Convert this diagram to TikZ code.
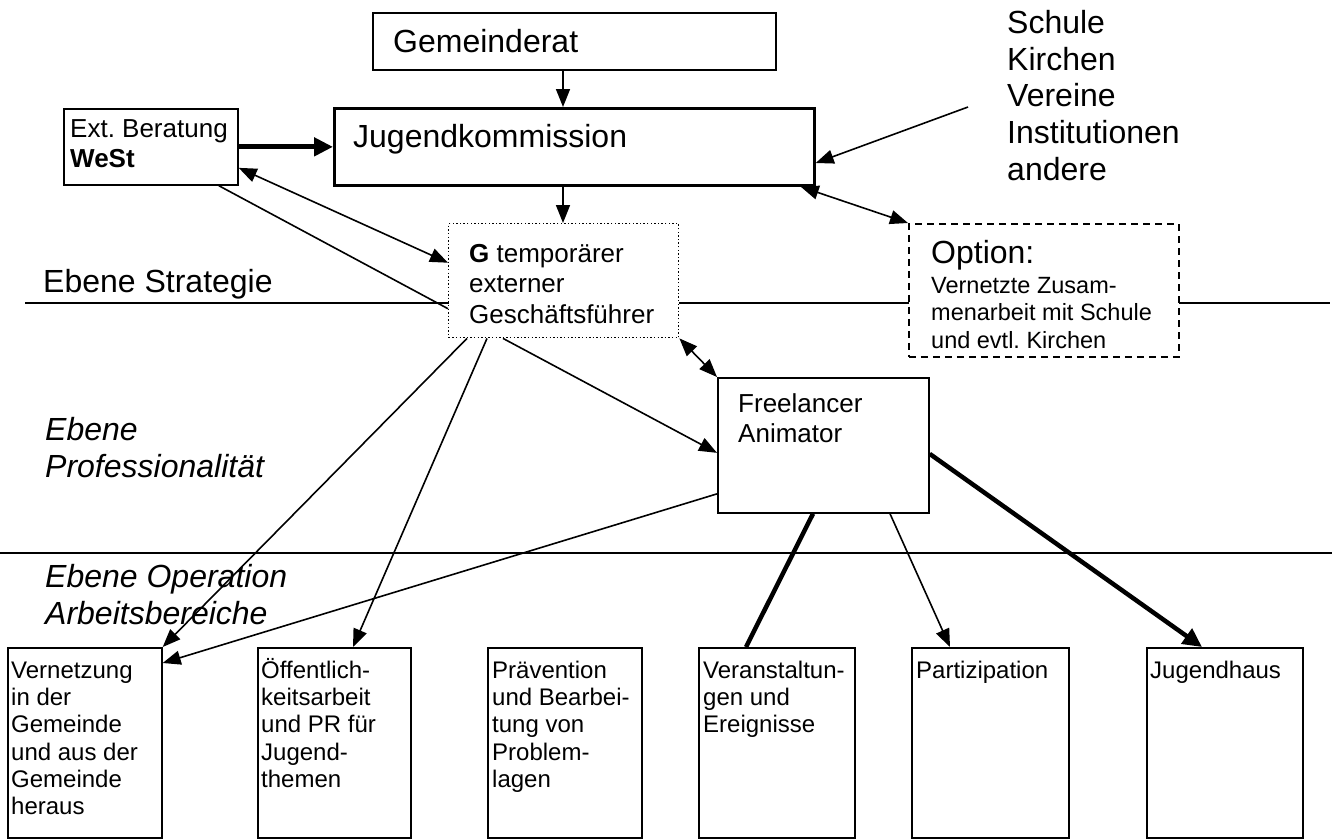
\documentclass[tikz,border=0pt]{standalone}
\usepackage{fontspec}
\setmainfont{Liberation Sans}
\usetikzlibrary{arrows.meta,calc}
\frenchspacing
\newcommand\fstr[1]{\rule{0pt}{#1pt}}
\newcommand\fbig{\fontsize{32}{36.8}\selectfont}
\newcommand\fmid{\fontsize{26}{30.5}\selectfont}
\newcommand\fsml{\fontsize{24}{27.3}\selectfont}
\newcommand\fopt{\fontsize{23.5}{27.5}\selectfont}
\tikzset{
  box/.style={draw, line width=1.7pt, anchor=north west, inner sep=0pt, fill=white},
  txt/.style={anchor=north west, inner sep=0pt, align=left},
  arr/.style={line width=1.6pt, -{Triangle[length=18pt,width=14pt]}},
  darr/.style={line width=1.6pt, {Triangle[length=18pt,width=14pt]}-{Triangle[length=18pt,width=14pt]}},
  plain/.style={line width=1.6pt},
  tarr/.style={line width=5pt, -{Triangle[length=19pt,width=18pt]}},
  thick line/.style={line width=4.5pt},
  level line/.style={line width=1.6pt},
}
\begin{document}
\begin{tikzpicture}[x=1pt,y=-1pt]
\useasboundingbox (0,0) rectangle (1340,839);
% level lines
\coordinate (ls1) at (25,303);
\coordinate (ls2) at (1330,303);
\coordinate (lp1) at (0,553);
\coordinate (lp2) at (1332,553);
\draw[level line] (ls1) -- (ls2);
\draw[level line] (lp1) -- (lp2);
% level labels
\node[txt, font=\fbig] (lvS) at (43,260) {\fstr{32}Ebene Strategie};
\node[txt, font=\fbig\itshape] (lvP) at (45,408) {\fstr{32}Ebene\\Professionalität};
\node[txt, font=\fbig\itshape] (lvO) at (45,555) {\fstr{32}Ebene Operation\\Arbeitsbereiche};
% top boxes
\node[box, minimum width=403pt, minimum height=57pt] (gr) at (372,12) {};
\node[txt, font=\fbig] (grt) at (393,20) {\fstr{32}Gemeinderat};
\node[box, line width=2.7pt, minimum width=480pt, minimum height=77pt] (jk) at (333,107) {};
\node[txt, font=\fbig] (jkt) at (353,115) {\fstr{32}Jugendkommission};
\node[box, minimum width=174pt, minimum height=76pt] (ext) at (63,108) {};
\node[txt, font=\fmid] (extt) at (70,111) {\fstr{26}Ext. Beratung\\\textbf{WeSt}};
\node[txt, font=\fbig] (list) at (1007,1) {\fstr{32}Schule\\Kirchen\\Vereine\\Institutionen\\andere};
\coordinate (listfrom) at (968,107);
% G box
\node[box, line width=1.4pt, dash pattern=on 1.4pt off 2.2pt, minimum width=230pt, minimum height=114pt] (gf) at (448,223) {};
\node[txt, font=\fmid] (gft) at (469,236) {\fstr{26}\textbf{G} temporärer\\externer\\Geschäftsführer};
% Option box
\node[box, line width=1.8pt, dash pattern=on 7pt off 5pt, minimum width=270pt, minimum height=133pt] (opt) at (908,223) {};
\node[txt, font=\fbig] (optt1) at (931,231) {\fstr{32}Option:};
\node[txt, font=\fopt] (optt2) at (931,269.5) {\fstr{23.5}Vernetzte Zusam-\\menarbeit mit Schule\\und evtl. Kirchen};
% Freelancer
\node[box, minimum width=211pt, minimum height=135pt] (fa) at (717,377) {};
\node[txt, font=\fmid] (fat) at (738,386) {\fstr{26}Freelancer\\Animator};
% bottom boxes
\node[box, minimum width=154pt, minimum height=190pt] (b1) at (7,647) {};
\node[box, minimum width=153pt, minimum height=190pt] (b2) at (257,647) {};
\node[box, minimum width=154pt, minimum height=190pt] (b3) at (487,647) {};
\node[box, minimum width=156pt, minimum height=190pt] (b4) at (698,647) {};
\node[box, minimum width=157pt, minimum height=190pt] (b5) at (911,647) {};
\node[box, minimum width=156pt, minimum height=190pt] (b6) at (1146,647) {};
\node[txt, font=\fsml] (b1t) at (11,654) {\fstr{24}Vernetzung\\in der\\Gemeinde\\und aus der\\Gemeinde\\heraus};
\node[txt, font=\fsml] (b2t) at (261,654) {\fstr{24}Öffentlich-\\keitsarbeit\\und PR für\\Jugend-\\themen};
\node[txt, font=\fsml] (b3t) at (492,654) {\fstr{24}Prävention\\und Bearbei-\\tung von\\Problem-\\lagen};
\node[txt, font=\fsml] (b4t) at (703,654) {\fstr{24}Veranstaltun-\\gen und\\Ereignisse};
\node[txt, font=\fsml] (b5t) at (916,654) {\fstr{24}Partizipation};
\node[txt, font=\fsml] (b6t) at (1150,654) {\fstr{24}Jugendhaus};
% connectors
\draw[arr] ([xshift=191pt]gr.south west) -- ([xshift=230pt]jk.north west);
\draw[arr] ([xshift=230pt]jk.south west) -- ([xshift=115pt]gf.north west);
\draw[tarr] (ext.east) -- (jk.west |- ext.east);
\draw[darr] ([yshift=-21pt]ext.east) -- ([yshift=18pt]gf.west);
\draw[plain] ([xshift=68pt]ext.south) -- ([yshift=-28pt]gf.west);
\draw[arr] (listfrom) -- ([yshift=-56pt]jk.north east);
\draw[darr] ([xshift=-15pt]jk.south east) -- (opt.north west);
\draw[darr] (gf.south east) -- (fa.north west);
\draw[arr] ([xshift=55pt]gf.south west) -- ([yshift=-7.5pt]fa.west);
\draw[arr] ([xshift=19pt]gf.south west) -- (b1.north east);
\draw[arr] ([xshift=39pt]gf.south west) -- ([xshift=96pt]b2.north west);
\draw[arr] ([yshift=-48.5pt]fa.west) -- ([yshift=-16pt]b1.north east);
\draw[thick line] ([xshift=96pt]fa.south west) -- ([xshift=48pt]b4.north west);
\draw[arr] ([xshift=173pt]fa.south west) -- ([xshift=39pt]b5.north west);
\draw[tarr, line width=4.5pt] ([yshift=-8.5pt]fa.east) -- ([xshift=56pt]b6.north west);
\end{tikzpicture}
\end{document}
